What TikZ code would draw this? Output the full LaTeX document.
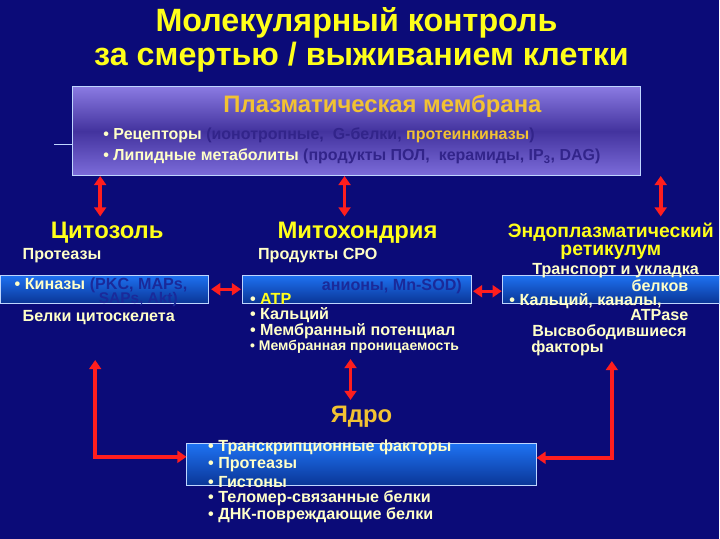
\documentclass[tikz,border=0pt]{standalone}
\usepackage{fontspec}
\setmainfont{Liberation Sans}
\usetikzlibrary{arrows.meta}
\definecolor{bgnavy}{HTML}{0B0B78}
\definecolor{ttlyel}{HTML}{FFFF1A}
\definecolor{hdrgold}{HTML}{F2C232}
\definecolor{lighttxt}{HTML}{FFFFC8}
\definecolor{arrred}{HTML}{FF1E1E}
\definecolor{boxtop}{HTML}{1E72F2}
\definecolor{boxbot}{HTML}{0A3596}
\definecolor{boxline}{HTML}{BFD6FF}
\definecolor{memtop}{HTML}{8A7AE2}
\definecolor{memmid}{HTML}{43339E}
\definecolor{membot}{HTML}{7C6CDA}
\definecolor{memdark}{HTML}{32248A}
\definecolor{boxdark}{HTML}{1A2A9A}
\begin{document}
\begin{tikzpicture}[x=0.025cm, y=-0.025cm,
    every node/.style={font=\bfseries, inner sep=0pt},
    bluebox/.style={draw=boxline, line width=0.6pt, top color=boxtop, bottom color=boxbot},
    membox/.style={draw=boxline, line width=0.6pt, top color=memtop, bottom color=membot, middle color=memmid},
    dbl/.style={draw=arrred, line width=2.6pt, {Triangle[length=6.5pt,width=8.5pt]}-{Triangle[length=6.5pt,width=8.5pt]}},
    ttl/.style={text=ttlyel, font=\fontsize{23}{26}\bfseries},
    hdr/.style={text=ttlyel, font=\fontsize{16}{19}\bfseries},
    txt/.style={text=lighttxt, font=\fontsize{11.5}{14}\bfseries},
    sm/.style={text=lighttxt, font=\fontsize{10}{12}\bfseries}]
    % background
    \fill[bgnavy] (0,0) rectangle (720,540);

    % Title
    \node[ttl] (title1) at (357,23) {Молекулярный контроль};
    \node[ttl] (title2) at (362,57) {за смертью / выживанием клетки};

    % Plasma membrane
    \node[membox, minimum width=14.25cm, minimum height=2.225cm] (membr) at (357,131.5) {};
    \draw[boxline, line width=0.8pt] ([yshift=-0.34cm]membr.west) -- ++(-0.45cm,0);
    \node[text=hdrgold, font=\fontsize{17}{20}\bfseries] (membrhdr) at (383,107) {Плазматическая мембрана};
    \node[txt, font=\fontsize{11.4}{13}\bfseries, anchor=west] (recept) at (103,136)
        {• Рецепторы \textcolor{memdark}{(ионотропные,\ \ G-белки,} \textcolor{hdrgold}{протеинкиназы}\textcolor{memdark}{)}};
    \node[txt, font=\fontsize{11.4}{13}\bfseries, anchor=west] (lipid) at (103,157)
        {• Липидные метаболиты \textcolor{memdark}{(продукты ПОЛ,\ \ керамиды, IP\textsubscript{3}, DAG)}};

    % Boxes behind the compartment texts
    \node[bluebox, minimum width=5.2cm, minimum height=0.7cm] (cytobox) at (104,290) {};
    \node[bluebox, minimum width=5.725cm, minimum height=0.7cm] (mitobox) at (357.5,290) {};
    \node[bluebox, minimum width=5.45cm, minimum height=0.7cm] (erbox) at (612,290) {};
    \node[bluebox, minimum width=8.75cm, minimum height=1.05cm] (nucbox) at (362,466) {};

    % Cytosol
    \node[hdr, font=\fontsize{17}{20}\bfseries] (cyto) at (107,233) {Цитозоль};
    \node[txt, anchor=west] (cyto1) at (22,256) {Протеазы};
    \node[txt, anchor=west] (cyto2) at (14,286) {• Киназы \textcolor{boxdark}{(PKC, MAPs,}};
    \node[txt, anchor=east, text=boxdark, font=\fontsize{11}{13}\bfseries] (cyto3) at (178,300.5) {SAPs, Akt)};
    \node[txt, anchor=west] (cyto4) at (22,318) {Белки цитоскелета};

    % Mitochondria
    \node[hdr, font=\fontsize{17}{20}\bfseries] (mito) at (358,233) {Митохондрия};
    \node[txt, anchor=west] (mito1) at (258,256) {Продукты СРО};
    \node[txt, anchor=west, text=boxdark] (mito2) at (322,287) {анионы, Mn-SOD)};
    \node[txt, anchor=west] (mito3) at (250,300) {• \textcolor{ttlyel}{ATP}};
    \node[txt, anchor=west] (mito4) at (250,316) {• Кальций};
    \node[txt, anchor=west] (mito5) at (250,332) {• Мембранный потенциал};
    \node[sm, anchor=west] (mito6) at (250,348) {• Мембранная проницаемость};

    % Endoplasmic reticulum
    \node[hdr, font=\fontsize{13.8}{17}\bfseries] (er1) at (612,233) {Эндоплазматический};
    \node[hdr, font=\fontsize{13.8}{17}\bfseries] (er2) at (612,253) {ретикулум};
    \node[txt, anchor=west] (er3) at (533,271) {Транспорт и укладка};
    \node[txt, anchor=east] (er4) at (690,286) {белков};
    \node[txt, anchor=west] (er5) at (510,302) {• Кальций, каналы,};
    \node[txt, anchor=east] (er6) at (690,316) {ATPase};
    \node[txt, anchor=west] (er7) at (533,333) {Высвободившиеся};
    \node[txt, anchor=west] (er8) at (532,349) {факторы};

    % Nucleus
    \node[text=hdrgold, font=\fontsize{17}{20}\bfseries] (nuc) at (362,418) {Ядро};
    \node[txt, anchor=west] (nuc1) at (208,449) {• Транскрипционные факторы};
    \node[txt, anchor=west] (nuc2) at (208,466) {• Протеазы};
    \node[txt, anchor=west] (nuc3) at (208,483) {• Гистоны};
    \node[txt, anchor=west] (nuc4) at (208,500) {• Теломер-связанные белки};
    \node[txt, anchor=west] (nuc5) at (208,517) {• ДНК-повреждающие белки};

    % arrow ends
    \coordinate (cytotop) at (100,217);
    \coordinate (mitotop) at (345,217);
    \coordinate (ertop) at (662,217);
    \coordinate (cytodown) at (95,361);
    \coordinate (erdown) at (613,362);
    \coordinate (mitodown) at (351,360);
    \coordinate (nuctop) at (351,401);

    % Arrows
    \draw[dbl] (membr.south -| cytotop) -- (cytotop);
    \draw[dbl] (membr.south -| mitotop) -- (mitotop);
    \draw[dbl] (membr.south -| ertop) -- (ertop);
    \draw[dbl, line width=2.2pt] ([xshift=2pt]cytobox.east) -- ([xshift=-1pt]mitobox.west);
    \draw[dbl, line width=2.2pt] ([xshift=1pt]mitobox.east |- 0,292) -- (erbox.west |- 0,292);
    \draw[dbl, line width=2.2pt] (mitodown) -- (nuctop);
    \draw[dbl] (cytodown) |- ([yshift=0.2cm]nucbox.west);
    \draw[dbl] (erdown) |- ([yshift=0.175cm]nucbox.east);
\end{tikzpicture}
\end{document}
